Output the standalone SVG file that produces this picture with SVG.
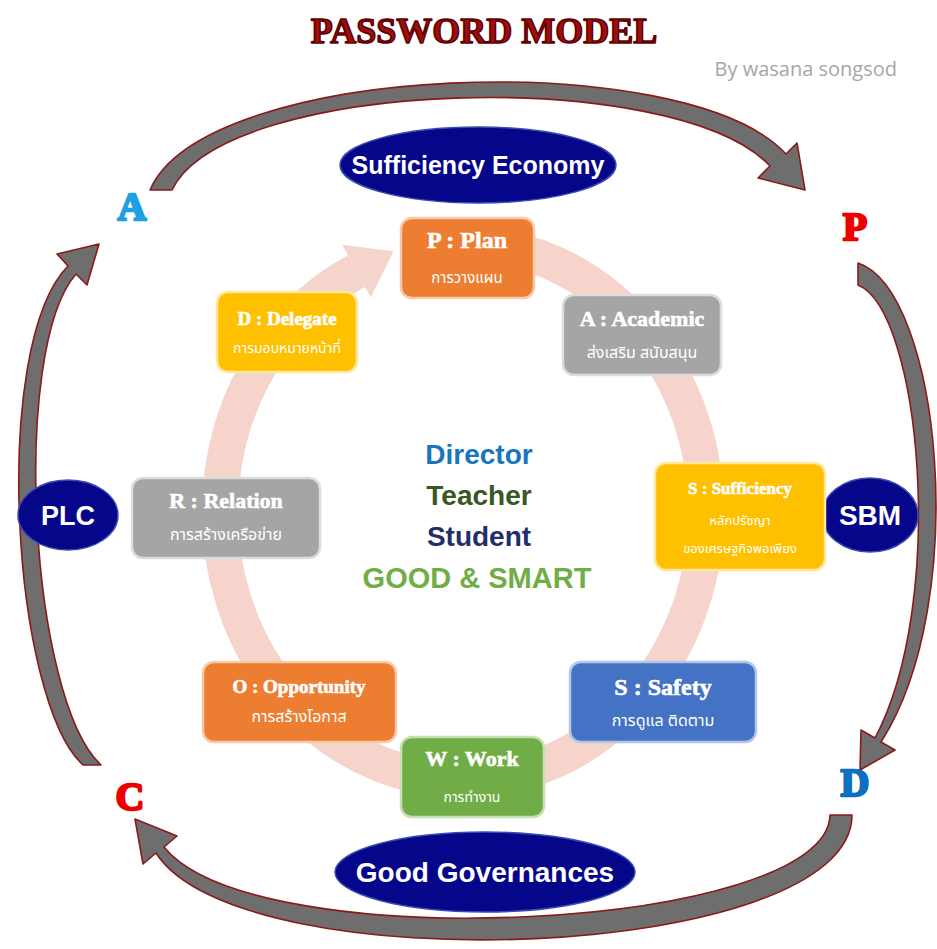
<svg xmlns="http://www.w3.org/2000/svg" width="937" height="949" viewBox="0 0 937 949">
<defs>
<style>
.title{font-family:"Liberation Serif",serif;font-weight:bold;}
.bt{font-family:"Liberation Serif",serif;font-weight:bold;fill:#ffffff;stroke:#ffffff;stroke-width:0.6;text-anchor:middle;}
.th{font-family:"Noto Sans Thai","Noto Sans","DejaVu Sans",sans-serif;fill:#ffffff;text-anchor:middle;}
.ell{fill:#06068a;stroke:#3a4cb0;stroke-width:1.5;}
.et{font-family:"Liberation Sans",Arial,sans-serif;font-weight:bold;fill:#ffffff;text-anchor:middle;}
.ct{font-family:"Liberation Sans",Arial,sans-serif;font-weight:bold;text-anchor:middle;}
.big{font-family:"Liberation Serif",serif;font-weight:bold;text-anchor:middle;stroke-width:2.4;stroke-linejoin:round;}
.arr{fill:#6e6e6e;stroke:#8b1a1a;stroke-width:1.6;stroke-linejoin:round;}
.box{stroke-width:2.5;}
</style>
</defs>
<rect width="937" height="949" fill="#ffffff"/>

<!-- title -->
<g id="title">
<text x="484" y="43" class="title" font-size="36" text-anchor="middle" fill="#a00d0d" stroke="#5e0000" stroke-width="1.6" stroke-linejoin="round">PASSWORD MODEL</text>
<text x="897" y="76" font-family="Open Sans,'Liberation Sans',sans-serif" font-size="20" fill="#a6a6a6" text-anchor="end">By wasana songsod</text>
</g>

<!-- pink cycle ring -->
<g id="ring" opacity="0.85">
<path d="M505.2,248.1 A243,268 0 1 1 356.5,271.1" fill="none" stroke="#f4cdc2" stroke-width="36"/>
<polygon points="370.7,297.5 342.3,244.7 393.5,251.2" fill="#f4cdc2"/>
</g>

<!-- connectors: outer curved arrows -->
<g id="connectors">
<path class="arr" d="M150,190 C205,62 685,45 786,154 L797,143 L805,190 L758,178 L770,166 C675,65 225,78 172,190 Z"/>
<path class="arr" d="M858,263 C940,290 972,600 881,742 L895,750 L860,770 L861,730 L875,738 C948,600 920,310 858,285 Z"/>
<path class="arr" d="M852,815 C852,962 240,985 156,853 L143,864 L135,819 L177,836 L164,847 C255,960 828,930 830,815 Z"/>
<path class="arr" d="M83,765 C12,700 -10,345 68,266 L57,254 L99,244 L87,285 L76,274 C10,350 30,700 101,765 Z"/>
</g>

<!-- corner letters -->
<g id="letter-A"><text x="132" y="220" class="big" font-size="40" fill="#1ea0e2" stroke="#1ea0e2">A</text></g>
<g id="letter-P"><text x="855" y="240" class="big" font-size="40" fill="#ee0000" stroke="#ee0000">P</text></g>
<g id="letter-C"><text x="130" y="810" class="big" font-size="40" fill="#ee0000" stroke="#ee0000">C</text></g>
<g id="letter-D"><text x="855" y="796" class="big" font-size="40" fill="#1070c0" stroke="#1070c0">D</text></g>

<!-- ellipses -->
<g id="sufficiency-economy">
<ellipse cx="478" cy="165" rx="138" ry="38" class="ell"/>
<text x="478" y="174" class="et" font-size="25">Sufficiency Economy</text>
</g>
<g id="plc">
<ellipse cx="68" cy="515" rx="50" ry="35" class="ell"/>
<text x="68" y="525" class="et" font-size="27">PLC</text>
</g>
<g id="sbm">
<ellipse cx="870" cy="515" rx="48" ry="37" class="ell"/>
<text x="870" y="525" class="et" font-size="28">SBM</text>
</g>
<g id="good-governances">
<ellipse cx="485" cy="872" rx="150" ry="40" class="ell"/>
<text x="485" y="882" class="et" font-size="28">Good Governances</text>
</g>

<!-- boxes -->
<g id="plan">
<rect x="401" y="218" width="133" height="80" rx="11" fill="#ed7d31" stroke="#f7c9a8" class="box"/>
<text x="467" y="248" class="bt" font-size="24">P : Plan</text>
<text x="467" y="283" class="th" font-size="15">การวางแผน</text>
</g>
<g id="academic">
<rect x="563" y="295" width="158" height="80" rx="11" fill="#a5a5a5" stroke="#dcdcdc" class="box"/>
<text x="642" y="326" class="bt" font-size="22">A : Academic</text>
<text x="642" y="358" class="th" font-size="16">ส่งเสริม สนับสนุน</text>
</g>
<g id="delegate">
<rect x="217" y="292" width="140" height="80" rx="11" fill="#ffc000" stroke="#ffe7a0" class="box"/>
<text x="287" y="325" class="bt" font-size="19">D : Delegate</text>
<text x="287" y="353" class="th" font-size="14">การมอบหมายหน้าที่</text>
</g>
<g id="relation">
<rect x="132" y="478" width="188" height="80" rx="11" fill="#a5a5a5" stroke="#dcdcdc" class="box"/>
<text x="226" y="508" class="bt" font-size="22">R : Relation</text>
<text x="226" y="540" class="th" font-size="16">การสร้างเครือข่าย</text>
</g>
<g id="sufficiency">
<rect x="655" y="463" width="170" height="107" rx="11" fill="#ffc000" stroke="#ffe7a0" class="box"/>
<text x="740" y="494" class="bt" font-size="17">S : Sufficiency</text>
<text x="740" y="525" class="th" font-size="13">หลักปรัชญา</text>
<text x="740" y="553" class="th" font-size="13">ของเศรษฐกิจพอเพียง</text>
</g>
<g id="opportunity">
<rect x="203" y="662" width="193" height="80" rx="11" fill="#ed7d31" stroke="#f7c9a8" class="box"/>
<text x="299" y="693" class="bt" font-size="19">O : Opportunity</text>
<text x="299" y="722" class="th" font-size="16">การสร้างโอกาส</text>
</g>
<g id="safety">
<rect x="570" y="662" width="186" height="80" rx="11" fill="#4472c4" stroke="#b4c6e7" class="box"/>
<text x="663" y="695" class="bt" font-size="24">S : Safety</text>
<text x="663" y="726" class="th" font-size="16">การดูแล ติดตาม</text>
</g>
<g id="work">
<rect x="401" y="737" width="143" height="80" rx="11" fill="#70ad47" stroke="#c5e0b4" class="box"/>
<text x="472" y="766" class="bt" font-size="22">W : Work</text>
<text x="472" y="802" class="th" font-size="14">การทำงาน</text>
</g>

<!-- center text -->
<g id="center">
<text x="479" y="464" class="ct" font-size="28" fill="#1a75bc">Director</text>
<text x="479" y="505" class="ct" font-size="28" fill="#385723">Teacher</text>
<text x="479" y="546" class="ct" font-size="28" fill="#1f2f6a">Student</text>
<text x="477" y="588" class="ct" font-size="29" fill="#70ad47">GOOD &amp; SMART</text>
</g>
</svg>
